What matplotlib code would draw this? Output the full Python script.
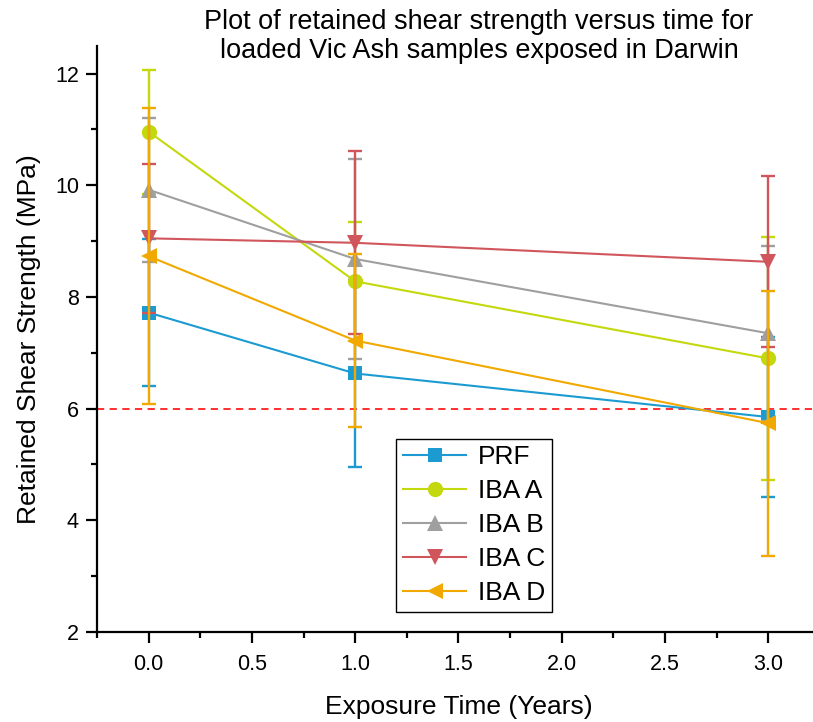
import matplotlib
matplotlib.use("Agg")
import matplotlib.pyplot as plt
from matplotlib.lines import Line2D
from matplotlib.ticker import MultipleLocator

plt.rcParams['font.family'] = ['Liberation Sans', 'DejaVu Sans']

# Exposure times (years)
years = [0.0, 1.0, 3.0]

# Mean retained shear strength (MPa) and error bar half-widths
prf = [7.72, 6.63, 5.85]
prf_err = [1.31, 1.67, 1.43]
iba_a = [10.96, 8.28, 6.90]
iba_a_err = [1.11, 1.06, 2.17]
iba_b = [9.92, 8.68, 7.35]
iba_b_err = [1.29, 1.79, 1.57]
iba_c = [9.05, 8.97, 8.63]
iba_c_err = [1.34, 1.64, 1.53]
iba_d = [8.73, 7.22, 5.74]
iba_d_err = [2.65, 1.55, 2.37]

labels = ["PRF", "IBA A", "IBA B", "IBA C", "IBA D"]
threshold = 6.0

series = [
    (prf, prf_err, '#1b9bd1', 's', 10),
    (iba_a, iba_a_err, '#c3d80d', 'o', 11),
    (iba_b, iba_b_err, '#9f9f9f', '^', 11),
    (iba_c, iba_c_err, '#d1565c', 'v', 11),
    (iba_d, iba_d_err, '#f1a900', '<', 11),
]

fig = plt.figure(figsize=(8.13, 7.22), dpi=100)
W, H = 813, 722
ax = fig.add_axes([97 / W, 90 / H, (819.8 - 97) / W, (632 - 45.7) / H])

handles = []
for i, ((vals, errs, color, marker, ms), lab) in enumerate(zip(series, labels)):
    line, caps, bars = ax.errorbar(years, vals, yerr=errs, color=color,
                                   marker=marker, markersize=ms,
                                   linewidth=1.5, elinewidth=1.7,
                                   capsize=5, capthick=1.7,
                                   zorder=3 + i, clip_on=False)
    line.set_markeredgewidth(0)
    handles.append(Line2D([], [], color=color, marker=marker, markersize=ms,
                          markeredgewidth=0, linewidth=1.5, label=lab))

ax.axhline(threshold, color='#ff1f1f', linewidth=1.3,
           linestyle=(0, (4, 3)), zorder=2)

ax.set_xlim(-0.25, 3.25)
ax.set_ylim(2, 12.5)
ax.xaxis.set_major_locator(MultipleLocator(0.5))
ax.xaxis.set_minor_locator(MultipleLocator(0.25))
ax.yaxis.set_major_locator(MultipleLocator(2))
ax.yaxis.set_minor_locator(MultipleLocator(1))
ax.xaxis.set_major_formatter(plt.FormatStrFormatter('%.1f'))

for side in ('top', 'right'):
    ax.spines[side].set_visible(False)
for side in ('left', 'bottom'):
    ax.spines[side].set_linewidth(1.6)

ax.tick_params(which='major', direction='out', length=8, width=1.6,
               labelsize=15.5, pad=5)
ax.tick_params(which='minor', direction='out', length=4.5, width=1.6)
ax.tick_params(axis='x', which='major', pad=8)

ax.set_xlabel('Exposure Time (Years)', fontsize=19, labelpad=14)
ax.set_ylabel('Retained Shear Strength (MPa)', fontsize=19, labelpad=10)

fig.text(479 / W, 1 - 9 / H,
         'Plot of retained shear strength versus time for\n'
         'loaded Vic Ash samples exposed in Darwin',
         ha='center', va='top', fontsize=19.5, linespacing=1.15)

leg = ax.legend(handles=handles, loc='lower left',
                bbox_to_anchor=(0.414, 0.034),
                borderaxespad=0, fontsize=19, frameon=True, fancybox=False,
                edgecolor='black', framealpha=1, handlelength=2.4,
                handletextpad=0.45, labelspacing=0.38, borderpad=0.25)
leg.get_frame().set_linewidth(1.0)
leg.set_zorder(10)

fig.savefig('out.png', dpi=100)
